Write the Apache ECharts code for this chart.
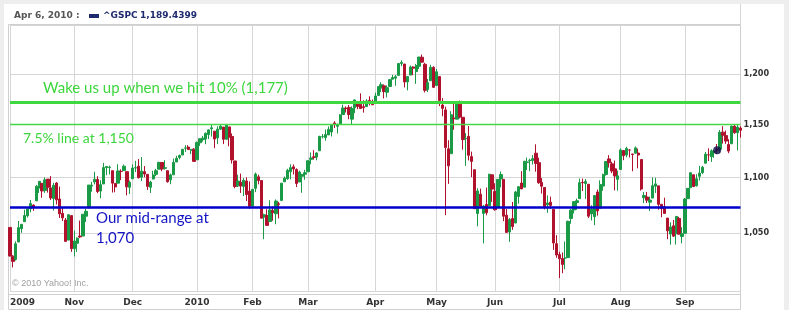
<!DOCTYPE html>
<html>
<head>
<meta charset="utf-8">
<script src="https://cdn.jsdelivr.net/npm/echarts@6/dist/echarts.min.js"></script>
<style>
html,body{margin:0;padding:0;background:#eeeeee;}
#panel{position:absolute;left:4px;top:4px;width:780px;height:306px;background:#ffffff;}
#chart{position:absolute;left:0;top:0;width:789px;height:310px;}
</style>
</head>
<body>
<div id="panel"></div>
<div id="chart"></div>
<script>
// ---------- data ----------
const months = ['2009-10','2009-11','2009-12','2010-01','2010-02','2010-03','2010-04','2010-05','2010-06','2010-07','2010-08','2010-09'];
const monthLabels = ['2009','Nov','Dec','2010','Feb','Mar','Apr','May','Jun','Jul','Aug','Sep'];
const tradingDays = [
  [1,2,5,6,7,8,9,12,13,14,15,16,19,20,21,22,23,26,27,28,29,30],
  [2,3,4,5,6,9,10,11,12,13,16,17,18,19,20,23,24,25,27,30],
  [1,2,3,4,7,8,9,10,11,14,15,16,17,18,21,22,23,24,28,29,30,31],
  [4,5,6,7,8,11,12,13,14,15,19,20,21,22,25,26,27,28,29],
  [1,2,3,4,5,8,9,10,11,12,16,17,18,19,22,23,24,25,26],
  [1,2,3,4,5,8,9,10,11,12,15,16,17,18,19,22,23,24,25,26,29,30,31],
  [1,5,6,7,8,9,12,13,14,15,16,19,20,21,22,23,26,27,28,29,30],
  [3,4,5,6,7,10,11,12,13,14,17,18,19,20,21,24,25,26,27,28],
  [1,2,3,4,7,8,9,10,11,14,15,16,17,18,21,22,23,24,25,28,29,30],
  [1,2,6,7,8,9,12,13,14,15,16,19,20,21,22,23,26,27,28,29,30],
  [2,3,4,5,6,9,10,11,12,13,16,17,18,19,20,23,24,25,26,27,30,31],
  [1,2,3,7,8,9,10,13,14,15,16,17,20,21,22,23,24,27,28,29]
];
// each item: [open, close, low, high]
const oct09 = [[1054.9,1029.9,1029.4,1054.9],[1029.7,1025.2,1020.0,1030.6],[1026.9,1040.5,1025.9,1042.6],[1042.0,1054.7,1042.0,1060.6],[1053.7,1057.6,1050.1,1058.0],[1060.0,1065.5,1060.0,1070.7],[1065.3,1071.5,1063.7,1071.5],[1071.6,1076.2,1068.3,1079.5],[1074.9,1073.2,1069.6,1075.3],[1078.7,1092.0,1078.7,1093.2],[1090.4,1096.6,1085.9,1096.6],[1094.7,1087.7,1081.5,1094.7],[1088.2,1097.9,1086.0,1100.2],[1098.6,1091.1,1086.2,1098.6],[1090.4,1081.4,1079.5,1101.4],[1080.9,1092.9,1070.0,1095.2],[1095.0,1079.6,1075.4,1095.8],[1080.4,1067.0,1063.3,1091.8],[1067.5,1063.4,1060.6,1072.5],[1061.5,1042.6,1042.4,1063.3],[1043.7,1066.1,1043.7,1066.8],[1065.4,1036.2,1033.4,1065.4]];
const nov09 = [[1036.2,1042.9,1029.4,1052.2],[1040.9,1045.4,1033.4,1046.1],[1047.3,1046.5,1045.4,1061.0],[1047.3,1066.6,1047.3,1066.7],[1064.9,1069.3,1059.7,1071.5],[1072.3,1093.1,1072.3,1093.2],[1092.2,1093.0,1087.0,1096.1],[1096.0,1098.5,1093.7,1105.4],[1098.3,1087.2,1085.7,1101.3],[1087.6,1093.5,1081.0,1097.6],[1094.1,1109.3,1094.1,1113.7],[1109.2,1110.3,1102.2,1110.3],[1109.4,1109.8,1102.9,1111.1],[1106.4,1094.9,1086.3,1106.4],[1094.7,1091.4,1086.5,1094.7],[1094.9,1106.2,1094.9,1112.4],[1105.8,1105.7,1097.6,1107.6],[1106.5,1110.6,1106.5,1112.2],[1105.5,1091.5,1083.7,1105.5],[1091.1,1095.6,1085.0,1097.2]];
const dec09 = [[1098.9,1108.9,1098.9,1112.3],[1109.0,1109.2,1105.1,1115.6],[1110.6,1099.9,1099.2,1117.3],[1100.4,1106.0,1096.8,1119.1],[1105.5,1103.3,1100.3,1110.7],[1103.0,1091.9,1088.6,1103.0],[1091.1,1095.9,1085.9,1097.0],[1098.7,1102.4,1098.4,1106.3],[1103.0,1106.4,1101.4,1108.1],[1107.8,1114.1,1107.8,1114.8],[1114.1,1107.9,1105.9,1114.1],[1108.6,1109.2,1107.4,1116.2],[1106.4,1096.1,1095.4,1106.4],[1097.9,1102.5,1093.9,1103.7],[1102.6,1114.1,1102.6,1117.7],[1114.5,1118.0,1114.5,1120.3],[1118.8,1120.6,1117.0,1121.6],[1121.1,1126.5,1121.1,1126.5],[1127.5,1127.8,1124.0,1130.4],[1128.6,1126.2,1126.0,1130.4],[1125.5,1126.4,1121.9,1126.4],[1126.6,1115.1,1115.0,1127.6]];
const jan10 = [[1116.6,1133.0,1116.6,1133.9],[1132.7,1136.5,1129.7,1136.6],[1135.7,1137.1,1133.7,1139.2],[1136.3,1141.7,1131.3,1142.5],[1140.5,1145.0,1136.2,1145.4],[1146.0,1147.0,1138.6,1149.7],[1143.8,1136.2,1127.5,1143.8],[1137.3,1145.7,1131.4,1148.4],[1145.7,1148.5,1145.1,1150.4],[1147.7,1136.0,1131.4,1147.8],[1136.0,1150.2,1136.0,1150.5],[1147.9,1138.0,1129.3,1147.9],[1138.7,1116.5,1113.0,1141.6],[1115.5,1091.8,1090.2,1115.5],[1092.4,1096.8,1091.3,1102.7],[1095.8,1092.2,1085.9,1103.7],[1091.9,1097.5,1083.1,1099.5],[1096.9,1084.5,1078.5,1100.2],[1087.6,1073.9,1071.6,1096.5]];
const feb10 = [[1073.9,1089.2,1073.9,1089.4],[1090.1,1103.3,1086.6,1104.7],[1100.7,1097.3,1093.8,1102.7],[1097.3,1063.1,1063.1,1097.3],[1064.1,1066.2,1044.5,1067.1],[1065.5,1056.7,1056.5,1071.2],[1060.1,1070.5,1060.1,1079.3],[1069.7,1068.1,1060.8,1073.7],[1067.1,1078.5,1057.7,1080.0],[1076.0,1075.5,1062.9,1077.8],[1079.1,1094.9,1079.1,1095.0],[1096.1,1099.5,1096.1,1101.0],[1099.0,1106.8,1098.0,1108.2],[1105.5,1109.2,1098.4,1112.4],[1110.0,1108.0,1102.9,1112.3],[1107.5,1094.6,1091.3,1108.6],[1095.9,1105.2,1095.9,1106.4],[1101.2,1102.9,1086.0,1103.5],[1103.1,1104.5,1098.0,1107.2]];
const mar10 = [[1105.4,1115.7,1105.4,1116.1],[1117.0,1118.3,1112.4,1123.5],[1119.4,1118.8,1116.7,1125.6],[1119.1,1123.0,1116.1,1123.7],[1125.1,1138.7,1125.1,1139.4],[1138.4,1138.5,1136.8,1141.1],[1137.6,1140.5,1134.7,1145.4],[1140.2,1145.6,1140.2,1148.3],[1143.0,1150.2,1138.7,1150.2],[1151.7,1150.0,1146.8,1153.4],[1148.5,1150.5,1141.5,1150.9],[1150.8,1159.5,1150.4,1160.3],[1159.9,1166.2,1159.9,1169.6],[1166.1,1165.8,1161.9,1167.8],[1166.7,1159.9,1155.3,1169.2],[1155.4,1165.8,1150.4,1167.8],[1166.5,1174.2,1161.2,1174.7],[1172.7,1167.7,1165.1,1173.0],[1170.0,1165.7,1165.7,1180.7],[1167.6,1166.6,1161.7,1173.9],[1167.7,1173.2,1167.7,1174.9],[1173.8,1173.3,1168.8,1177.8],[1171.8,1169.4,1169.2,1174.6]];
const apr10 = [[1171.2,1178.1,1170.7,1181.4],[1178.7,1187.4,1178.7,1187.7],[1186.0,1189.4,1181.9,1191.8],[1188.2,1182.5,1175.7,1189.6],[1181.8,1186.4,1176.7,1188.6],[1187.5,1194.4,1187.1,1194.7],[1194.9,1196.5,1194.7,1199.2],[1195.9,1197.3,1188.2,1199.0],[1198.7,1210.7,1198.7,1210.7],[1210.8,1211.7,1208.0,1213.9],[1210.2,1192.1,1186.6,1210.2],[1192.1,1197.5,1183.7,1197.9],[1199.0,1207.2,1199.0,1208.6],[1207.2,1205.9,1198.9,1207.8],[1202.5,1208.7,1190.2,1210.3],[1207.9,1217.3,1205.1,1217.3],[1217.1,1212.1,1211.9,1219.8],[1209.9,1183.7,1181.6,1211.4],[1184.6,1191.4,1182.0,1195.1],[1193.3,1206.8,1193.3,1209.4],[1206.8,1186.7,1186.2,1208.0]];
const may10 = [[1188.6,1202.3,1188.6,1205.1],[1197.5,1173.6,1168.1,1197.5],[1169.2,1165.9,1158.2,1176.0],[1164.4,1128.2,1065.8,1167.6],[1127.0,1110.9,1094.2,1135.1],[1122.3,1159.7,1122.3,1163.2],[1156.4,1155.8,1145.1,1170.5],[1155.4,1171.7,1155.4,1172.6],[1170.0,1157.4,1156.1,1173.6],[1157.2,1135.7,1126.1,1157.2],[1136.5,1136.9,1110.9,1141.9],[1138.8,1120.8,1116.0,1148.7],[1119.6,1115.1,1100.4,1124.3],[1107.3,1071.6,1071.6,1107.3],[1067.3,1087.7,1055.9,1090.2],[1084.8,1073.7,1073.1,1089.9],[1067.4,1074.0,1040.8,1074.8],[1075.5,1068.0,1065.7,1090.8],[1074.3,1103.1,1074.3,1103.5],[1102.6,1089.4,1077.8,1102.6]];
const jun10 = [[1087.3,1070.7,1069.9,1094.8],[1073.0,1098.4,1072.3,1098.4],[1098.8,1102.8,1091.0,1105.7],[1098.4,1064.9,1060.5,1098.4],[1065.8,1050.5,1050.2,1071.3],[1050.8,1062.0,1042.2,1063.2],[1062.8,1055.7,1052.7,1077.7],[1058.8,1086.8,1058.8,1087.8],[1082.7,1091.6,1076.2,1092.0],[1095.0,1089.6,1089.4,1105.9],[1091.2,1115.2,1091.2,1115.6],[1114.0,1114.6,1107.0,1118.7],[1116.0,1116.0,1105.9,1117.7],[1116.2,1117.5,1112.2,1121.0],[1122.8,1113.2,1105.5,1131.2],[1113.9,1095.3,1094.2,1118.5],[1095.6,1092.0,1085.3,1099.6],[1090.9,1073.7,1071.0,1090.9],[1075.1,1076.8,1067.9,1083.6],[1077.5,1074.6,1071.5,1082.6],[1071.1,1041.2,1035.2,1071.1],[1040.6,1030.7,1028.3,1048.1]];
const jul10 = [[1031.1,1027.4,1010.9,1033.6],[1027.7,1022.6,1015.0,1032.9],[1028.1,1028.1,1018.4,1042.5],[1028.5,1060.3,1028.5,1060.9],[1062.9,1070.3,1058.2,1071.3],[1070.5,1078.0,1067.3,1078.2],[1077.2,1078.8,1070.6,1080.8],[1080.7,1095.3,1080.7,1099.1],[1095.6,1095.2,1087.7,1099.1],[1094.5,1096.5,1080.5,1098.7],[1093.9,1064.9,1063.3,1093.9],[1066.9,1071.3,1061.1,1074.7],[1064.5,1083.5,1056.9,1083.9],[1086.7,1069.6,1065.4,1089.0],[1072.1,1093.7,1072.1,1097.5],[1092.2,1102.7,1087.9,1103.7],[1102.9,1115.0,1101.8,1115.0],[1117.4,1113.8,1109.3,1121.0],[1112.8,1106.1,1104.1,1114.7],[1108.1,1101.5,1088.2,1115.9],[1098.4,1101.6,1088.0,1106.4]];
const aug10 = [[1107.5,1125.9,1107.5,1127.3],[1125.3,1120.5,1116.2,1125.4],[1121.1,1127.2,1119.0,1128.8],[1125.8,1125.8,1118.8,1126.6],[1122.1,1121.6,1105.9,1122.1],[1122.8,1127.8,1122.8,1129.2],[1122.9,1121.1,1108.6,1127.2],[1116.9,1089.5,1088.0,1116.9],[1081.5,1083.6,1076.6,1086.7],[1082.2,1079.3,1076.7,1086.8],[1077.5,1079.4,1069.5,1082.6],[1081.2,1092.5,1081.2,1100.1],[1092.1,1094.2,1085.9,1099.8],[1092.4,1075.6,1070.7,1092.4],[1075.6,1071.7,1063.9,1075.6],[1073.4,1067.4,1067.1,1081.6],[1063.2,1051.9,1044.5,1063.2],[1049.0,1055.3,1039.7,1059.4],[1056.3,1047.2,1046.7,1061.5],[1049.3,1064.6,1039.8,1065.2],[1062.9,1048.9,1048.8,1064.4],[1046.9,1049.3,1040.9,1055.1]];
const sep10 = [[1049.7,1080.3,1049.7,1081.3],[1080.7,1090.1,1080.4,1090.1],[1090.6,1104.5,1090.6,1105.1],[1102.6,1091.8,1091.2,1102.6],[1092.4,1098.9,1091.8,1103.1],[1101.2,1104.2,1097.3,1110.9],[1104.6,1109.6,1103.3,1110.9],[1113.4,1121.9,1113.4,1123.9],[1121.2,1121.1,1115.4,1127.4],[1119.4,1125.1,1114.6,1126.5],[1123.9,1124.7,1118.5,1125.4],[1126.4,1125.6,1122.0,1131.5],[1126.6,1142.7,1123.1,1144.9],[1142.8,1139.8,1131.9,1148.6],[1139.5,1134.3,1131.6,1144.4],[1131.1,1124.8,1122.8,1136.1],[1131.7,1148.7,1131.7,1148.9],[1148.6,1142.2,1141.4,1149.9],[1142.3,1147.7,1125.3,1150.0],[1146.8,1144.7,1137.6,1148.6]];
const hoverPoint = ['2010-09-17', 1125.6];
const gridValues = [1000, 1050, 1100, 1150, 1200, 1250];
const tickLabelValues = [1050, 1100, 1150, 1200];
const refLevels = [1172, 1150, 1073]; // wake-up line, 7.5% line, mid-range line
const titleDate = 'Apr 6, 2010 :';
const titleSymbol = '^GSPC';
const titleValue = '1,189.4399';

// ---------- build ----------
const categories = [];
const monthStartIdx = new Set();
const labelByDate = {};
months.forEach((m, i) => {
  monthStartIdx.add(categories.length);
  tradingDays[i].forEach((d, j) => {
    const key = m + '-' + String(d).padStart(2, '0');
    if (j === 0) labelByDate[key] = monthLabels[i];
    categories.push(key);
  });
});
const candles = [].concat(oct09, nov09, dec09, jan10, feb10, mar10, apr10, may10, jun10, jul10, aug10, sep10);

const GREEN = '#1a9a46', RED = '#b0122e';
const LBL = 'DejaVu Sans';
const fmt = v => String(Math.round(v)).replace(/\B(?=(\d{3})+(?!\d))/g, ',');

const chart = echarts.init(document.getElementById('chart'), null, {renderer: 'canvas'});
chart.setOption({
  animation: false,
  backgroundColor: 'transparent',
  grid: {left: 10, top: 25.5, width: 730.5, height: 265.5, outerBoundsMode: 'none', containLabel: false},
  xAxis: {
    type: 'category', data: categories, boundaryGap: false,
    axisLine: {show: false}, axisTick: {show: false},
    axisLabel: {
      interval: (i) => monthStartIdx.has(i),
      formatter: (v) => labelByDate[v] || '',
      fontFamily: LBL, fontWeight: 'bold', fontSize: 9, color: '#333', margin: 7,
      alignMinLabel: 'left'
    },
    splitLine: {show: true, interval: (i) => monthStartIdx.has(i), lineStyle: {color: '#d6d6d6', width: 1}}
  },
  yAxis: {
    type: 'log', logBase: 10, min: 1000, max: 1250, position: 'right',
    axisLine: {show: false},
    axisTick: {show: false, customValues: gridValues},
    axisLabel: {customValues: tickLabelValues, formatter: fmt, fontFamily: 'DejaVu Sans Condensed, DejaVu Sans',
      fontWeight: 'bold', fontSize: 9, color: '#333', margin: 3},
    splitLine: {show: true, lineStyle: {color: '#d6d6d6', width: 1}}
  },
  series: [
    {
      type: 'candlestick', data: candles, barWidth: 2.8, clip: false,
      itemStyle: {color: GREEN, color0: RED, borderColor: GREEN, borderColor0: RED, borderWidth: 1},
      markLine: {
        silent: true, symbol: 'none', label: {show: false}, z: 10,
        data: [
          {yAxis: refLevels[0], lineStyle: {color: '#3fd93f', width: 2.8, type: 'solid'}},
          {yAxis: refLevels[1], lineStyle: {color: '#45d845', width: 1.4, type: 'solid'}},
          {yAxis: refLevels[2], lineStyle: {color: '#0000cc', width: 2.6, type: 'solid'}}
        ]
      }
    },
    {
      type: 'scatter', data: [hoverPoint], symbolSize: 8, z: 12,
      itemStyle: {color: '#0c0c48'}
    }
  ],
  graphic: [
    {type: 'rect', silent: true, z: -1, shape: {x: 8.5, y: 24.5, width: 732, height: 285}, style: {fill: 'none', stroke: '#cfcfcf', lineWidth: 1}},
    {type: 'line', silent: true, shape: {x1: 8.5, y1: 294.5, x2: 740.5, y2: 294.5}, style: {stroke: '#cfcfcf', lineWidth: 1}},
    {type: 'line', silent: true, shape: {x1: 740.5, y1: 4, x2: 740.5, y2: 25}, style: {stroke: '#d6d6d6', lineWidth: 1}},
    {type: 'text', silent: true, style: {text: titleDate, x: 14, y: 15.5, verticalAlign: 'middle', font: 'bold 9px "DejaVu Sans"', fill: '#555555'}},
    {type: 'rect', silent: true, shape: {x: 89, y: 14, width: 10, height: 4}, style: {fill: '#1d2a6e'}},
    {type: 'text', silent: true, style: {text: titleSymbol, x: 103, y: 15.5, verticalAlign: 'middle', font: 'bold 9px "DejaVu Sans"', fill: '#1d2a6e'}},
    {type: 'text', silent: true, style: {text: titleValue, x: 140, y: 15.5, verticalAlign: 'middle', font: 'bold 9px "DejaVu Sans"', fill: '#1d2a6e'}},
    {type: 'text', silent: true, style: {text: '\u00a9 2010 Yahoo! Inc.', x: 12, y: 284, verticalAlign: 'middle', font: '9px "Liberation Sans"', fill: '#a0a0a0'}},
    {type: 'text', silent: true, z: 20, style: {text: 'Wake us up when we hit 10% (1,177)', x: 43, y: 88.5, verticalAlign: 'middle', font: '15px Lato', fill: '#3dd63d'}},
    {type: 'text', silent: true, z: 20, style: {text: '7.5% line at 1,150', x: 23, y: 138, verticalAlign: 'middle', font: '14px Lato', fill: '#3dd63d'}},
    {type: 'text', silent: true, z: 20, style: {text: 'Our mid-range at', x: 96, y: 218, verticalAlign: 'middle', font: '15px Lato', fill: '#1414c4'}},
    {type: 'text', silent: true, z: 20, style: {text: '1,070', x: 96, y: 238, verticalAlign: 'middle', font: '15px Lato', fill: '#1414c4'}}
  ]
});
</script>
</body>
</html>
